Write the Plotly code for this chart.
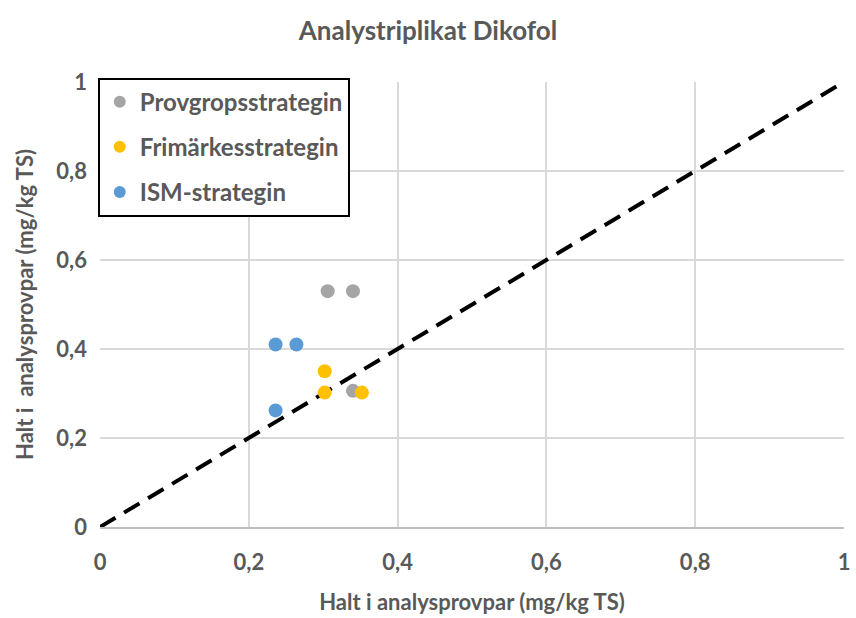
import plotly.graph_objects as go

# Replicate analyses of dikofol, one series per sampling strategy
series_names = ["Provgropsstrategin", "Frimärkesstrategin", "ISM-strategin"]
series_colors = ["#A5A5A5", "#FFC000", "#5B9BD5"]

prov_x = [0.306, 0.340, 0.340]
prov_y = [0.530, 0.530, 0.306]

frim_x = [0.302, 0.302, 0.352]
frim_y = [0.350, 0.302, 0.302]

ism_x = [0.236, 0.264, 0.236]
ism_y = [0.410, 0.410, 0.262]

# 1:1 reference line
line_x = [0, 1]
line_y = [0, 1]

tick_vals = [0, 0.2, 0.4, 0.6, 0.8, 1]
tick_text = ["0", "0,2", "0,4", "0,6", "0,8", "1"]

FONT = "Lato, Open Sans, Liberation Sans, sans-serif"
GREY = "#595959"

fig = go.Figure()

fig.add_trace(go.Scatter(
    x=line_x, y=line_y, mode="lines", showlegend=False, hoverinfo="skip",
    line=dict(color="black", width=4, dash="18px,10px"),
))

for i, (name, xs, ys) in enumerate(zip(series_names, [prov_x, frim_x, ism_x], [prov_y, frim_y, ism_y])):
    fig.add_trace(go.Scatter(
        x=xs, y=ys, mode="markers", name=name, legendgroup=f"g{i}",
        marker=dict(color=series_colors[i], size=14),
    ))

tickfont = dict(size=22, color=GREY, family=FONT, weight="bold")
titlefont = dict(size=22, color=GREY, family=FONT, weight="bold")

fig.update_layout(
    width=856, height=618,
    margin=dict(l=100, r=6, t=82, b=91),
    paper_bgcolor="white", plot_bgcolor="white",
    font=dict(family=FONT, color=GREY),
    title=dict(text="Analystriplikat Dikofol", x=0.5, xanchor="center",
               y=0.95, yanchor="middle",
               font=dict(size=26, color=GREY, family=FONT, weight="bold")),
    legend=dict(x=-0.003, y=1.01, xanchor="left", yanchor="top",
                bordercolor="black", borderwidth=2, bgcolor="white",
                font=dict(size=24, color=GREY, family=FONT, weight="bold"),
                tracegroupgap=11, itemsizing="constant"),
    xaxis=dict(range=[0, 1], tickvals=tick_vals, ticktext=tick_text,
               showgrid=True, gridcolor="#D9D9D9", gridwidth=1.5,
               zeroline=False, showline=True, linecolor="#BFBFBF", linewidth=1.5,
               ticks="", ticklabelstandoff=15, tickfont=tickfont,
               ticklabeloverflow="allow",
               title=dict(text="Halt i analysprovpar (mg/kg TS)",
                          font=titlefont, standoff=20)),
    yaxis=dict(range=[0, 1], tickvals=tick_vals, ticktext=tick_text,
               showgrid=True, gridcolor="#D9D9D9", gridwidth=1.5,
               zeroline=False, showline=False,
               ticks="", ticklabelstandoff=12, tickfont=tickfont,
               ticklabeloverflow="allow",
               title=dict(text="Halt i  analysprovpar (mg/kg TS)",
                          font=titlefont, standoff=16)),
)

fig.write_html("out.html")
